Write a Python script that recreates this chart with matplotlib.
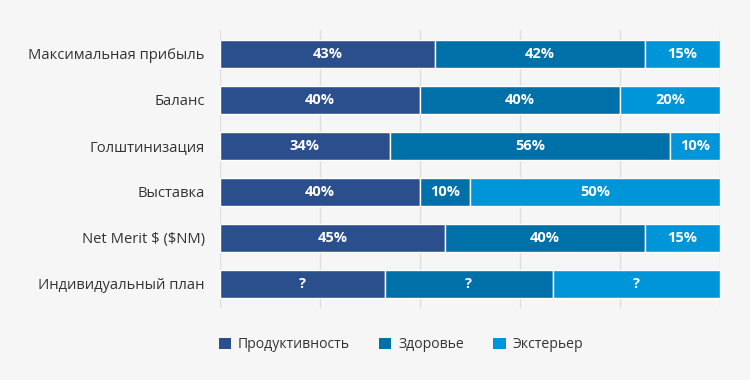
import matplotlib
matplotlib.use("Agg")
import matplotlib.pyplot as plt
from matplotlib.patches import Patch

# ── данные ────────────────────────────────────────────────────────────────
categories = ["Максимальная прибыль", "Баланс", "Голштинизация",
              "Выставка", r"Net Merit \$ (\$NM)", "Индивидуальный план"]
series_names = ["Продуктивность", "Здоровье", "Экстерьер"]
productivity = [43, 40, 34, 40, 45, 33]
health = [42, 40, 56, 10, 40, 33.5]
exterior = [15, 20, 10, 50, 15, 33.5]
# подписи на сегментах (у индивидуального плана — вопросы)
labels_prod = ["43%", "40%", "34%", "40%", "45%", "?"]
labels_health = ["42%", "40%", "56%", "10%", "40%", "?"]
labels_ext = ["15%", "20%", "10%", "50%", "15%", "?"]

COLORS = ["#2b4f8c", "#0070a8", "#0095d9"]
FONT = ["Open Sans", "DejaVu Sans"]
plt.rcParams["font.family"] = FONT

fig = plt.figure(figsize=(7.5, 3.8), dpi=100, facecolor="#f6f6f6")
ax = fig.add_axes([220 / 750, 72 / 380, 500 / 750, 278 / 380])
ax.set_facecolor("none")

ypos = list(range(len(categories)))
left = [0] * len(categories)
for vals, labs, col in [(productivity, labels_prod, COLORS[0]),
                        (health, labels_health, COLORS[1]),
                        (exterior, labels_ext, COLORS[2])]:
    bars = ax.barh(ypos, vals, left=left, height=0.61, color=col,
                   edgecolor="white", linewidth=1, zorder=3)
    for b, t in zip(bars, labs):
        ax.text(b.get_x() + b.get_width() / 2, b.get_y() + b.get_height() / 2,
                t, ha="center", va="center", color="white", fontsize=10.5,
                fontweight="bold", zorder=4)
    left = [l + v for l, v in zip(left, vals)]

ax.set_xlim(0, 100)
ax.set_ylim(5 + 24 / 46, -24 / 46)
ax.set_xticks([0, 20, 40, 60, 80, 100])
ax.xaxis.grid(True, color="#dedede", linewidth=1, zorder=0)
ax.tick_params(axis="x", length=0, labelbottom=False)
ax.tick_params(axis="y", length=0, pad=11, labelsize=10.6, labelcolor="#333333")
ax.set_yticks(ypos)
ax.set_yticklabels(categories)
for s in ax.spines.values():
    s.set_visible(False)

handles = [Patch(facecolor=c, edgecolor="none") for c in COLORS]
fig.legend(handles, series_names, loc="center left",
           bbox_to_anchor=(206 / 750, 1 - 345 / 380), ncol=3, frameon=False,
           handlelength=0.86, handleheight=0.86, handletextpad=0.5,
           columnspacing=2.1, prop={"size": 10.1, "family": FONT},
           labelcolor="#333333")

fig.savefig("out.png", dpi=100, facecolor=fig.get_facecolor())
